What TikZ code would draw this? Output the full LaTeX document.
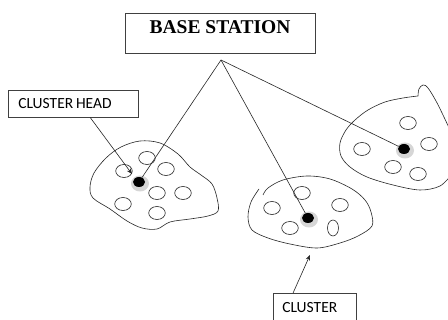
\documentclass[tikz,border=0pt]{standalone}
\usepackage{fontspec}
\setmainfont{Liberation Serif}
\newfontfamily\calib{Carlito}
\usetikzlibrary{arrows.meta,calc,shapes.geometric}
\begin{document}
\begin{tikzpicture}[x=1pt,y=-1pt,
  ln/.style={line width=0.6pt, draw=black!85},
  sensor/.style={draw=black!85, line width=0.6pt},
  headdot/.style={ellipse, fill=black, minimum width=12pt, minimum height=10pt, inner sep=0pt},
  halo/.style={fill=black!16},
  labelbox/.style={draw=black!75, line width=0.6pt, anchor=north west, align=left, font=\calib\fontsize{15.5}{15.5}\selectfont, text height=10pt},
  arr/.style={ln, -{Stealth[length=5.5pt,width=4.5pt]}}
]
\clip (0,0) rectangle (448,320);
\fill[white] (0,0) rectangle (448,320);

% base station
\node[draw=black!75, line width=0.6pt, anchor=north, minimum width=190pt, inner xsep=0pt, inner ysep=0pt,
      text height=20.5pt, text depth=19.5pt, font=\bfseries\fontsize{19.5}{19.5}\selectfont] (bs) at (220,13) {BASE STATION};
\coordinate (apex) at (221,60);

% labels
\node[labelbox, text width=110pt, inner xsep=10pt, minimum height=27pt, text depth=0pt] (chlabel) at (8,90) {CLUSTER\kern2.8pt HEAD};
\node[labelbox, text width=65pt, inner xsep=9pt, inner ysep=9pt, text depth=12pt] (clabel) at (273,293) {CLUSTER};

% left cluster
\draw[ln] plot[smooth cycle, tension=0.55] coordinates {(90,187) (94,173) (106,158) (121,147) (140,141) (160,143) (178,154) (190,167) (201,175) (212,184) (217,198) (218,211) (208,216) (190,219) (170,222) (157,229) (142,228) (127,221) (110,209) (93,198)};
\foreach \p in {(124,171),(147,158),(166,169),(157,193),(183,193),(123,204),(157,213)}
  \draw[sensor] \p ellipse[x radius=8.3pt, y radius=6.5pt];
\fill[halo] (140,183.5) ellipse[x radius=9pt, y radius=8pt];
\node[headdot] (hL) at (139,182) {};

% middle cluster
\draw[ln] plot[smooth, tension=0.55] coordinates {(259,189) (251,202) (248,217) (252,230) (268,238) (290,244) (317,248) (340,243) (358,236) (372,226) (371,212) (365,200) (352,189) (330,179) (307,176) (283,180) (268,188) (263,195)};
\foreach \p in {(302,193),(272,208),(340,205),(290,228)}
  \draw[sensor] \p ellipse[x radius=8.3pt, y radius=6.5pt];
\draw[sensor] (333,228) ellipse[x radius=5.5pt, y radius=8pt];
\fill[halo] (309,219.5) ellipse[x radius=9pt, y radius=8pt];
\node[headdot] (hM) at (308,218) {};

% right cluster
\draw[ln] plot[smooth, tension=0.55] coordinates {(452,174) (440,186) (420,190) (393,185) (367,177) (350,167) (341,156) (340,143) (346,130) (355,120) (368,110) (385,102) (403,98) (418,96)};
\draw[ln] plot[smooth, tension=0.6] coordinates {(418,96) (419,89) (423,85) (428,88) (436,101) (443,115) (451,132)};
\foreach \p in {(408,123),(362,149),(429,144),(393,167),(418,174)}
  \draw[sensor] \p ellipse[x radius=8.3pt, y radius=6.5pt];
\fill[halo] (405,150.5) ellipse[x radius=9pt, y radius=8pt];
\node[headdot] (hR) at (404,149) {};

% links to base station
\draw[ln] (apex) -- (hL);
\draw[ln] (apex) -- (hM);
\draw[ln] (apex) -- (hR);

% pointer arrows
\coordinate (chtip) at (132,174);
\coordinate (ctip) at (310,255);
\draw[arr] ($(chlabel.south west)!0.63!(chlabel.south east)$) -- (chtip);
\draw[arr] ($(clabel.north west)!0.24!(clabel.north east)$) -- (ctip);
\end{tikzpicture}
\end{document}
